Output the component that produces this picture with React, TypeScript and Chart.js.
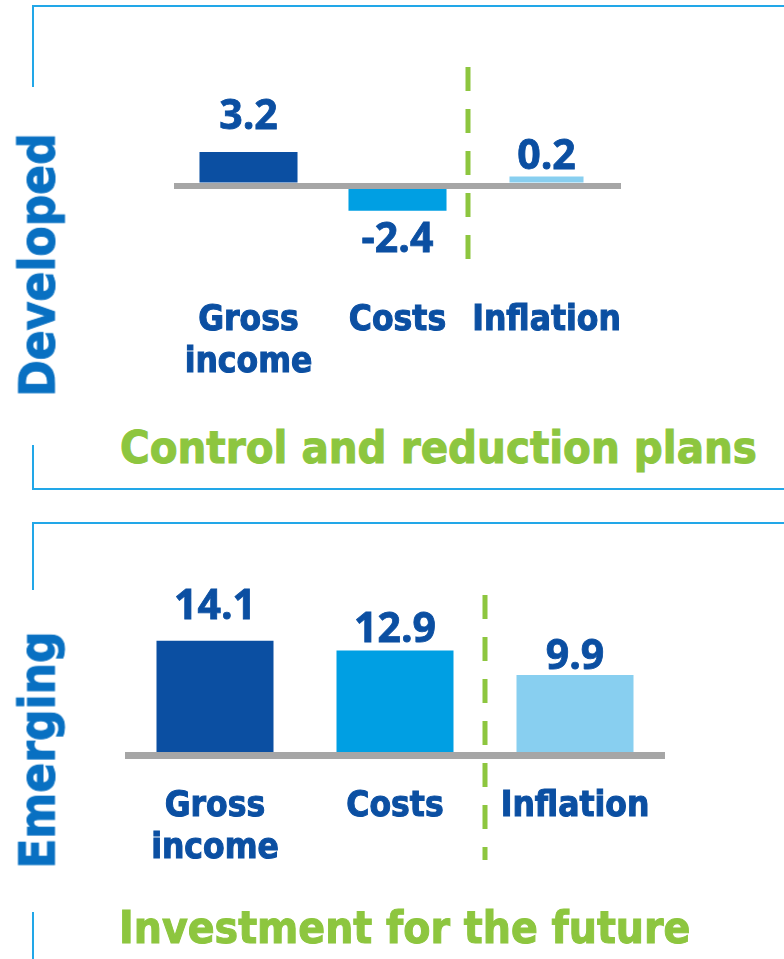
import React, { useEffect, useRef } from 'react';
import { Chart, registerables } from 'chart.js';

Chart.register(...registerables);

// ---------------- data ----------------
const categories: string[][] = [['Gross', 'income'], ['Costs'], ['Inflation']];
const developedValues: number[] = [3.2, -2.4, 0.2];
const emergingValues: number[] = [14.1, 12.9, 9.9];
const panelNames: string[] = ['Developed', 'Emerging'];
const panelThemes: string[] = ['Control and reduction plans', 'Investment for the future'];

// ---------------- styles ----------------
const BAR_COLORS = ['#0b4fa2', '#009fe3', '#88cff0'];
const TEXT_BLUE = '#0b4fa2';
const LABEL_BLUE = '#0870c2';
const GREEN = '#8dc63f';
const FRAME = '#22a7e8';
const GRAY = '#a6a6a6';
const COND = '"DejaVu Sans Condensed", "DejaVu Sans", sans-serif';
const VALUE_FONT = '"Open Sans", "Noto Sans", sans-serif';

const valueLabelPlugin = {
  id: 'valueLabels',
  afterDatasetsDraw(chart: any, _args: any, opts: any) {
    const { ctx } = chart;
    ctx.save();
    ctx.font = `bold ${opts.size}px ${VALUE_FONT}`;
    ctx.fillStyle = opts.color;
    ctx.strokeStyle = opts.color;
    ctx.lineWidth = 0.8;
    ctx.textAlign = 'center';
    ctx.textBaseline = 'alphabetic';
    chart.data.datasets.forEach((ds: any, di: number) => {
      const meta = chart.getDatasetMeta(di);
      meta.data.forEach((el: any, i: number) => {
        const v = ds.data[i];
        if (v === null || v === undefined) return;
        const gap = opts.gaps[i];
        const y = v >= 0 ? el.y - gap : el.y + gap;
        ctx.fillText(v.toFixed(1), el.x, y);
        ctx.strokeText(v.toFixed(1), el.x, y);
      });
    });
    ctx.restore();
  },
};

const dividerPlugin = {
  id: 'divider',
  beforeDatasetsDraw(chart: any, _args: any, opts: any) {
    const { ctx } = chart;
    const xs = chart.scales.x;
    const px = (xs.getPixelForValue(opts.after) + xs.getPixelForValue(opts.after + 1)) / 2 + (opts.offset || 0);
    const { top, bottom } = chart.chartArea;
    ctx.save();
    ctx.strokeStyle = opts.color;
    ctx.lineWidth = opts.width;
    ctx.setLineDash(opts.dash);
    ctx.beginPath();
    ctx.moveTo(px, top);
    ctx.lineTo(px, bottom + (opts.extend || 0));
    ctx.stroke();
    ctx.restore();
  },
};

type PanelStyle = {
  y: number; height: number; left: number; right: number; top: number; axisH: number;
  min: number; max: number; tickPad: number; mainBar: number; lastBar: number; minBar: number;
  zeroWidth: number; gaps: number[]; dividerExtend: number; dividerOffset: number;
};

function PanelChart({ values, st }: { values: number[]; st: PanelStyle }) {
  const ref = useRef<HTMLCanvasElement>(null);
  useEffect(() => {
    const last = values.length - 1;
    const chart = new Chart(ref.current as HTMLCanvasElement, {
      type: 'bar',
      data: {
        labels: categories as any,
        datasets: [
          {
            data: values.map((v, i) => (i < last ? v : null)),
            backgroundColor: BAR_COLORS,
            barPercentage: st.mainBar,
            categoryPercentage: 1,
            grouped: false,
          } as any,
          {
            data: values.map((v, i) => (i === last ? v : null)),
            backgroundColor: BAR_COLORS,
            barPercentage: st.lastBar,
            categoryPercentage: 1,
            grouped: false,
            minBarLength: st.minBar,
          } as any,
        ],
      },
      options: {
        animation: false,
        responsive: false,
        maintainAspectRatio: false,
        devicePixelRatio: 1,
        layout: { padding: { left: st.left, right: st.right, top: st.top, bottom: 0 } },
        plugins: {
          legend: { display: false },
          tooltip: { enabled: false },
          valueLabels: { size: 41, color: TEXT_BLUE, gaps: st.gaps },
          divider: { after: 1, color: GREEN, width: 5, dash: [24, 18], extend: st.dividerExtend, offset: st.dividerOffset },
        } as any,
        scales: {
          x: {
            grid: { display: false },
            border: { display: false },
            ticks: {
              color: TEXT_BLUE,
              textStrokeColor: TEXT_BLUE,
              textStrokeWidth: 1,
              font: { family: COND, weight: 'bold', size: 35, lineHeight: 1.2 },
              padding: st.tickPad,
              maxRotation: 0,
              minRotation: 0,
              autoSkip: false,
            },
            afterFit: (s: any) => { s.height = st.axisH; },
          } as any,
          y: {
            min: st.min,
            max: st.max,
            grid: {
              z: 1,
              drawTicks: false,
              color: (c: any) => (c.tick && c.tick.value === 0 ? GRAY : 'rgba(0,0,0,0)'),
              lineWidth: (c: any) => (c.tick && c.tick.value === 0 ? st.zeroWidth : 0),
            },
            border: { display: false },
            ticks: { display: false, stepSize: 1 },
            afterFit: (s: any) => { s.width = 0; },
          } as any,
        },
      },
      plugins: [valueLabelPlugin as any, dividerPlugin as any],
    });
    return () => chart.destroy();
  }, []);
  return (
    <canvas
      ref={ref}
      width={784}
      height={st.height}
      style={{ position: 'absolute', left: 0, top: st.y, width: 784, height: st.height }}
    />
  );
}

const topStyle: PanelStyle = {
  y: 0, height: 400, left: 174, right: 163, top: 67, axisH: 141,
  min: -7, max: 11.3, tickPad: 33, mainBar: 0.658, lastBar: 0.497, minBar: 9,
  zeroWidth: 6, gaps: [23, 41, 8], dividerExtend: 0, dividerOffset: -4,
};
const bottomStyle: PanelStyle = {
  y: 500, height: 459, left: 125, right: 119, top: 95, axisH: 195,
  min: -1, max: 19.7, tickPad: 14, mainBar: 0.65, lastBar: 0.65, minBar: 0,
  zeroWidth: 7, gaps: [22, 9, 6], dividerExtend: 96, dividerOffset: 0,
};

const box = (left: number, top: number, width: number, height: number): React.CSSProperties => ({
  position: 'absolute', left, top, width, height, background: FRAME,
});

const rotated = (cx: number, cy: number): React.CSSProperties => ({
  position: 'absolute', left: cx, top: cy,
  transform: 'translate(-50%, -50%) rotate(-90deg)',
  font: `bold 49px ${COND}`, lineHeight: '49px', color: LABEL_BLUE, whiteSpace: 'nowrap',
  WebkitTextStroke: `1px ${LABEL_BLUE}`,
});

const theme = (left: number, top: number, size: number): React.CSSProperties => ({
  position: 'absolute', left, top,
  font: `bold ${size}px ${COND}`, lineHeight: `${size}px`, color: GREEN, whiteSpace: 'nowrap',
  WebkitTextStroke: `1px ${GREEN}`,
});

export default function App() {
  return (
    <div style={{ position: 'fixed', left: 0, top: 0, width: 784, height: 959, background: '#fff', overflow: 'hidden' }}>
      {/* top frame */}
      <div style={box(32, 5, 752, 2)} />
      <div style={box(32, 5, 2, 82)} />
      <div style={box(32, 445, 2, 44)} />
      <div style={box(32, 488, 752, 2)} />
      {/* bottom frame */}
      <div style={box(32, 522, 752, 2)} />
      <div style={box(32, 522, 2, 68)} />
      <div style={box(32, 912, 2, 47)} />

      <PanelChart values={developedValues} st={topStyle} />
      <PanelChart values={emergingValues} st={bottomStyle} />

      <div style={rotated(38, 265)}>{panelNames[0]}</div>
      <div style={rotated(38, 750)}>{panelNames[1]}</div>
      <div style={theme(120, 425, 45)}>{panelThemes[0]}</div>
      <div style={theme(119, 906, 44)}>{panelThemes[1]}</div>
    </div>
  );
}
